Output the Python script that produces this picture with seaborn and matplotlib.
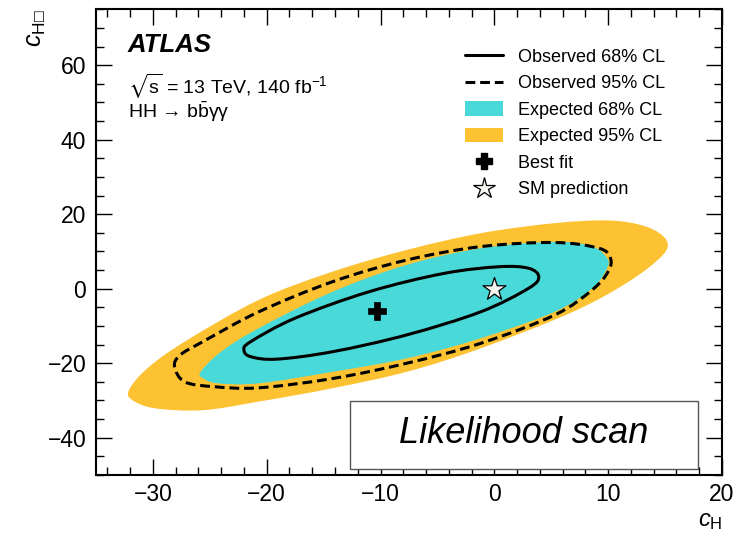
import numpy as np
import matplotlib
matplotlib.use("Agg")
import matplotlib.pyplot as plt
import seaborn as sns
from matplotlib.path import Path
from matplotlib.patches import PathPatch, Patch, Rectangle
from matplotlib.lines import Line2D
from matplotlib.ticker import MultipleLocator

sns.set_theme(style="ticks")
plt.rcParams["font.family"] = ["Liberation Sans", "DejaVu Sans"]
plt.rcParams["mathtext.fontset"] = "custom"
plt.rcParams["mathtext.rm"] = "Liberation Sans"
plt.rcParams["mathtext.it"] = "Liberation Sans:italic"
plt.rcParams["mathtext.bf"] = "Liberation Sans:bold"
plt.rcParams["mathtext.fallback"] = "stixsans"
for key in ["text.color", "axes.labelcolor", "xtick.color", "ytick.color",
            "axes.edgecolor"]:
    plt.rcParams[key] = "black"

# Contour outlines in the (c_H, c_Hbox) plane, listed around each region
exp95_x = [-32.1, -30.5, -27.2, -20.7, -14.2, -7.7, -1.2, 5.3, 10.2, 13.4, 15.1,
           14.8, 11.8, 6.9, -1.2, -7.7, -14.2, -20.7, -25.6, -29.8, -31.8]
exp95_y = [-27.2, -21.4, -14.2, -3.0, 4.6, 10.4, 14.9, 17.6, 18.3, 16.6, 13.1,
           9.05, 1.9, -6.2, -16.0, -22.3, -26.7, -30.3, -32.6, -32.1, -29.9]

exp68_x = [-25.8, -24.0, -20.7, -14.2, -7.7, -1.2, 5.3, 8.6, 9.9,
           9.9, 8.6, 5.3, -1.2, -7.7, -14.2, -20.7, -24.3, -25.6]
exp68_y = [-22.3, -16.9, -10.6, -0.8, 6.4, 10.85, 12.6, 11.3, 8.2,
           5.5, 0.1, -6.2, -13.3, -18.7, -22.3, -25.4, -25.4, -24.0]

obs95_x = [-28.1, -27.6, -25.6, -20.7, -14.2, -7.7, -1.2, 5.3, 9.2, 10.2,
           10.0, 8.6, 5.3, -1.2, -7.7, -14.2, -20.7, -24.6, -27.2]
obs95_y = [-20.9, -17.8, -14.2, -6.2, 1.9, 7.7, 11.3, 12.4, 10.85, 8.2,
           4.6, -0.3, -7.05, -14.65, -20.0, -24.1, -26.6, -26.3, -25.0]

obs68_x = [-22.0, -21.4, -17.5, -11.0, -4.45, 0.4, 3.0, 3.9,
           3.0, -1.2, -7.7, -14.2, -19.1, -21.4]
obs68_y = [-16.45, -14.2, -7.9, -0.8, 4.1, 5.9, 5.5, 3.2,
           0.1, -6.2, -12.4, -16.9, -18.9, -18.25]

best_fit = {"c_H": [-10.3], "c_Hbox": [-6.1]}
sm_point = {"c_H": [0.0], "c_Hbox": [0.0]}

legend_labels = ["Observed 68% CL", "Observed 95% CL", "Expected 68% CL",
                 "Expected 95% CL", "Best fit", "SM prediction"]

c_cyan = "#49d9d8"
c_yellow = "#fcc232"
c_star = "#f2f6ee"


def smooth_closed_path(xs, ys):
    """Closed Catmull-Rom curve through the outline, as cubic Bezier segments."""
    pts = np.column_stack([xs, ys]).astype(float)
    n = len(pts)
    verts = [pts[0]]
    codes = [Path.MOVETO]
    for i in range(n):
        p0, p1 = pts[i - 1], pts[i]
        p2, p3 = pts[(i + 1) % n], pts[(i + 2) % n]
        verts += [p1 + (p2 - p0) / 6.0, p2 - (p3 - p1) / 6.0, p2]
        codes += [Path.CURVE4] * 3
    verts.append(pts[0])
    codes.append(Path.CLOSEPOLY)
    return Path(verts, codes)


fig = plt.figure(figsize=(7.44, 5.37), dpi=100)
ax = fig.add_axes([96 / 744, 1 - 475 / 537, 626 / 744, 465.7 / 537])
ax.set_facecolor("white")

ax.add_patch(PathPatch(smooth_closed_path(exp95_x, exp95_y), facecolor=c_yellow,
                       edgecolor="none", zorder=1))
ax.add_patch(PathPatch(smooth_closed_path(exp68_x, exp68_y), facecolor=c_cyan,
                       edgecolor="none", zorder=2))
ax.add_patch(PathPatch(smooth_closed_path(obs95_x, obs95_y), facecolor="none",
                       edgecolor="black", lw=2.2, linestyle=(0, (3.2, 1.6)), zorder=3))
ax.add_patch(PathPatch(smooth_closed_path(obs68_x, obs68_y), facecolor="none",
                       edgecolor="black", lw=2.2, zorder=3))

sns.scatterplot(data=best_fit, x="c_H", y="c_Hbox", marker="P", s=150,
                color="black", edgecolor="black", linewidth=0.5, zorder=5, ax=ax,
                legend=False)
sns.scatterplot(data=sm_point, x="c_H", y="c_Hbox", marker="*", s=300,
                color=c_star, edgecolor="black", linewidth=0.9, zorder=5, ax=ax,
                legend=False)

ax.set_xlim(-35, 20)
ax.set_ylim(-50, 75)
ax.xaxis.set_major_locator(MultipleLocator(10))
ax.xaxis.set_minor_locator(MultipleLocator(2))
ax.yaxis.set_major_locator(MultipleLocator(20))
ax.yaxis.set_minor_locator(MultipleLocator(5))
ax.tick_params(which="both", direction="in", top=True, right=True,
               color="black", width=1.0)
ax.tick_params(which="major", length=11.5, labelsize=16.5, pad=6)
ax.tick_params(which="minor", length=6)
ax.tick_params(axis="y", which="major", pad=7)
for sp in ax.spines.values():
    sp.set_color("black")
    sp.set_linewidth(1.5)

ax.set_xlabel(r"$c_{\mathrm{H}}$", fontsize=17, loc="right", labelpad=3)
ax.set_ylabel("$c_{\\mathrm{H}\u25a1}$", fontsize=18, loc="top", labelpad=0)

ax.text(0.051, 0.908, "ATLAS", transform=ax.transAxes, fontsize=18.5,
        fontweight="bold", fontstyle="italic", va="baseline", ha="left")
ax.text(0.051, 0.818, r"$\sqrt{\mathrm{s}}$ = 13 TeV, 140 fb$^{-1}$",
        transform=ax.transAxes, fontsize=14, va="baseline", ha="left")
ax.text(0.051, 0.767, "HH → b$\\bar{\\mathrm{b}}$γγ", transform=ax.transAxes,
        fontsize=14, va="baseline", ha="left")

ax.add_patch(Rectangle((0.406, 0.013), 0.556, 0.146, transform=ax.transAxes,
                       facecolor="white", edgecolor="#555555", lw=1.0, zorder=6))
ax.text(0.684, 0.090, "Likelihood scan", transform=ax.transAxes, fontsize=26,
        fontstyle="italic", ha="center", va="center", zorder=7)

handles = [
    Line2D([], [], color="black", lw=2.2),
    Line2D([], [], color="black", lw=2.2, linestyle=(0, (3.2, 1.6))),
    Patch(facecolor=c_cyan, edgecolor="none"),
    Patch(facecolor=c_yellow, edgecolor="none"),
    Line2D([], [], marker="P", color="black", linestyle="none", markersize=12),
    Line2D([], [], marker="*", markerfacecolor=c_star, markeredgecolor="black",
           markeredgewidth=0.9, linestyle="none", markersize=16),
]
ax.legend(handles, legend_labels, loc="upper left", bbox_to_anchor=(0.589, 0.916),
          frameon=False, fontsize=13, borderaxespad=0, borderpad=0,
          handlelength=2.1, handleheight=0.85, handletextpad=0.85, labelspacing=0.5)

fig.savefig("out.png", dpi=100)
